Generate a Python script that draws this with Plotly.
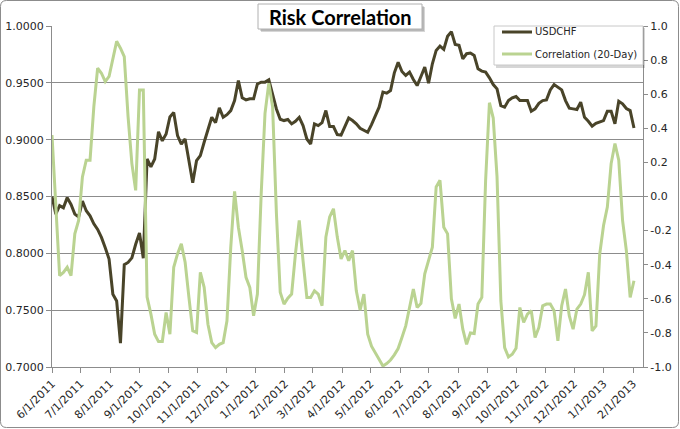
import pandas as pd
import plotly.graph_objects as go

# ---- data (sampled every 4 calendar days from 6/1/2011) ----
usdchf = [
    0.850, 0.8345, 0.842, 0.840, 0.849, 0.843, 0.8345, 0.832, 0.846, 0.8375,
    0.833, 0.826, 0.821, 0.814, 0.805, 0.795, 0.764, 0.758, 0.721, 0.790,
    0.792, 0.796, 0.808, 0.818, 0.7957, 0.883, 0.876, 0.883, 0.907, 0.899,
    0.905, 0.920, 0.924, 0.9036, 0.896, 0.9006, 0.8815, 0.862, 0.8815, 0.886,
    0.8977, 0.9095, 0.9197, 0.915, 0.928, 0.9197, 0.922, 0.9256, 0.9344, 0.952,
    0.9368, 0.935, 0.936, 0.936, 0.949, 0.9506, 0.9506, 0.9526, 0.939, 0.927,
    0.918, 0.9168, 0.9177, 0.9139, 0.9162, 0.9197, 0.9124, 0.9006, 0.8962, 0.9139,
    0.9124, 0.915, 0.9256, 0.9115, 0.9115, 0.9045, 0.904, 0.911, 0.919, 0.9168,
    0.9139, 0.910, 0.9086, 0.9065, 0.9133, 0.9212, 0.9286, 0.9418, 0.9409, 0.9432,
    0.9588, 0.968, 0.960, 0.9565, 0.9594, 0.953, 0.9476, 0.9556, 0.9638, 0.9497,
    0.9668, 0.9785, 0.9823, 0.9794, 0.991, 0.995, 0.9838, 0.983, 0.9712, 0.9756,
    0.9762, 0.974, 0.9623, 0.9603, 0.9594, 0.9544, 0.9485, 0.9447, 0.930, 0.9286,
    0.9344, 0.9368, 0.938, 0.9344, 0.9344, 0.9344, 0.925, 0.9271, 0.932, 0.9344,
    0.935, 0.9438, 0.9485, 0.9462, 0.9438, 0.9344, 0.9277, 0.9271, 0.9265, 0.933,
    0.9197, 0.9162, 0.9118, 0.9144, 0.9153, 0.9168, 0.925, 0.925, 0.9139, 0.9338,
    0.9315, 0.9274, 0.9256, 0.9103,
]

correlation = [
    0.36, -0.02, -0.464, -0.445, -0.415, -0.464, -0.219, -0.14, 0.115, 0.213,
    0.213, 0.527, 0.753, 0.723, 0.674, 0.704, 0.80, 0.91, 0.87, 0.82,
    0.468, 0.193, 0.036, 0.625, 0.625, -0.59, -0.69, -0.808, -0.851, -0.851,
    -0.68, -0.808, -0.415, -0.337, -0.278, -0.386, -0.592, -0.788, -0.798, -0.445,
    -0.533, -0.749, -0.857, -0.886, -0.867, -0.857, -0.729, -0.297, 0.03, -0.18,
    -0.317, -0.474, -0.533, -0.70, -0.572, 0.017, 0.488, 0.664, 0.527, -0.10,
    -0.562, -0.631, -0.596, -0.572, -0.337, -0.14, -0.376, -0.592, -0.592, -0.553,
    -0.572, -0.641, -0.238, -0.12, -0.072, -0.238, -0.366, -0.317, -0.376, -0.317,
    -0.553, -0.666, -0.572, -0.808, -0.878, -0.916, -0.961, -0.994, -0.98, -0.959,
    -0.929, -0.892, -0.827, -0.759, -0.651, -0.543, -0.651, -0.627, -0.454, -0.372,
    -0.297, 0.056, 0.095, -0.18, -0.219, -0.6, -0.715, -0.631, -0.778, -0.867,
    -0.80, -0.804, -0.631, -0.592, 0.095, 0.55, 0.46, 0.115, -0.611, -0.886,
    -0.941, -0.925, -0.89, -0.651, -0.739, -0.69, -0.67, -0.827, -0.768, -0.641,
    -0.631, -0.631, -0.67, -0.847, -0.641, -0.543, -0.70, -0.778, -0.66, -0.631,
    -0.576, -0.445, -0.788, -0.759, -0.337, -0.17, -0.062, 0.193, 0.311, 0.213,
    -0.14, -0.317, -0.592, -0.494,
]

dates = pd.date_range("2011-06-01", periods=len(usdchf), freq="4D")

x_tick_dates = [
    "2011-06-01", "2011-07-01", "2011-08-01", "2011-09-01", "2011-10-01",
    "2011-11-01", "2011-12-01", "2012-01-01", "2012-02-01", "2012-03-01",
    "2012-04-01", "2012-05-01", "2012-06-01", "2012-07-01", "2012-08-01",
    "2012-09-01", "2012-10-01", "2012-11-01", "2012-12-01", "2013-01-01",
    "2013-02-01",
]
x_tick_labels = [
    "6/1/2011", "7/1/2011", "8/1/2011", "9/1/2011", "10/1/2011",
    "11/1/2011", "12/1/2011", "1/1/2012", "2/1/2012", "3/1/2012",
    "4/1/2012", "5/1/2012", "6/1/2012", "7/1/2012", "8/1/2012",
    "9/1/2012", "10/1/2012", "11/1/2012", "12/1/2012", "1/1/2013",
    "2/1/2013",
]
left_ticks = [0.70, 0.75, 0.80, 0.85, 0.90, 0.95, 1.00]
right_ticks = [-1.0, -0.8, -0.6, -0.4, -0.2, 0.0, 0.2, 0.4, 0.6, 0.8, 1.0]
right_labels = ["-1.0", "-0.8", "-0.6", "-0.4", "-0.2", "0.0", "0.2", "0.4", "0.6", "0.8", "1.0"]
series_names = ["USDCHF", "Correlation (20-Day)"]

# ---- styling ----
W, H = 680, 429
L, R, T, B = 52, 643, 26, 367
DARK = "#494429"
GREEN = "#bad391"
GRID = "#8c8c8c"
TXT = "#262626"
FONT = "DejaVu Sans"


def px2x(px):
    return (px - L) / (R - L)


def py2y(py):
    return (B - py) / (B - T)


fig = go.Figure()
fig.add_trace(go.Scatter(
    x=dates, y=usdchf, name=series_names[0], mode="lines",
    line=dict(color=DARK, width=3),
))
fig.add_trace(go.Scatter(
    x=dates, y=correlation, name=series_names[1], mode="lines",
    line=dict(color=GREEN, width=3), yaxis="y2",
))

axis_common = dict(
    showline=True, linecolor=GRID, linewidth=1,
    ticks="outside", tickcolor=GRID, ticklen=5,
    tickfont=dict(family=FONT, size=11, color=TXT),
    zeroline=False,
)

fig.update_layout(
    width=W, height=H,
    margin=dict(l=L, r=W - R, t=T, b=H - B, autoexpand=False),
    paper_bgcolor="white", plot_bgcolor="white",
    hovermode=False,
    xaxis=dict(
        type="date", range=["2011-06-01", "2013-02-11 12:00"],
        tickvals=x_tick_dates, ticktext=x_tick_labels, tickangle=-45,
        showgrid=False, **axis_common,
    ),
    yaxis=dict(
        range=[0.70, 1.00], tickvals=left_ticks, tickformat=".4f",
        showgrid=True, gridcolor=GRID, gridwidth=1, **axis_common,
    ),
    yaxis2=dict(
        overlaying="y", side="right", range=[-1.0, 1.0],
        tickvals=right_ticks, ticktext=right_labels, showgrid=False,
        **{**axis_common, "ticklen": 4},
    ),
    showlegend=False,
)

shapes = []
# title box shadow + box
shapes.append(dict(type="rect", xref="paper", yref="paper", layer="above",
                   x0=px2x(261), x1=px2x(425), y0=py2y(7), y1=py2y(32),
                   fillcolor="rgba(0,0,0,0.16)", line=dict(width=0)))
shapes.append(dict(type="rect", xref="paper", yref="paper", layer="above",
                   x0=px2x(260), x1=px2x(424), y0=py2y(6), y1=py2y(31),
                   fillcolor="rgba(0,0,0,0.14)", line=dict(width=0)))
shapes.append(dict(type="rect", xref="paper", yref="paper", layer="above",
                   x0=px2x(258), x1=px2x(422), y0=py2y(4), y1=py2y(29),
                   fillcolor="white", line=dict(color="#b0b0b0", width=1)))
# legend shadow + box
shapes.append(dict(type="rect", xref="paper", yref="paper", layer="above",
                   x0=px2x(496), x1=px2x(645), y0=py2y(28), y1=py2y(68),
                   fillcolor="rgba(0,0,0,0.16)", line=dict(width=0)))
shapes.append(dict(type="rect", xref="paper", yref="paper", layer="above",
                   x0=px2x(494), x1=px2x(643), y0=py2y(26), y1=py2y(65),
                   fillcolor="white", line=dict(color="#c8c8c8", width=1)))
# legend keys
for yk, col in zip([32, 54], [DARK, GREEN]):
    shapes.append(dict(type="line", xref="paper", yref="paper", layer="above",
                       x0=px2x(502), x1=px2x(532), y0=py2y(yk), y1=py2y(yk),
                       line=dict(color=col, width=3)))
# outer chart border (rounded)
r = 6
x0, x1, y0, y1 = 0.5, W - 1.5, 0.5, H - 1.5
pts = [
    ("M", x0 + r, y0), ("L", x1 - r, y0), ("Q", x1, y0, x1, y0 + r),
    ("L", x1, y1 - r), ("Q", x1, y1, x1 - r, y1), ("L", x0 + r, y1),
    ("Q", x0, y1, x0, y1 - r), ("L", x0, y0 + r), ("Q", x0, y0, x0 + r, y0),
]
path = ""
for p in pts:
    cmd = p[0]
    coords = p[1:]
    segs = []
    for k in range(0, len(coords), 2):
        segs.append(f"{px2x(coords[k]):.5f},{py2y(coords[k + 1]):.5f}")
    path += cmd + " ".join(segs) + " "
shapes.append(dict(type="path", xref="paper", yref="paper", layer="above",
                   path=path + "Z", line=dict(color="#8c8c8c", width=1)))
fig.update_layout(shapes=shapes)

fig.add_annotation(
    x=px2x(340), y=py2y(16.5), xref="paper", yref="paper",
    xanchor="center", yanchor="middle",
    text="<b>Risk Correlation</b>", showarrow=False,
    font=dict(family="Lato", size=20, color="black"),
)
for yk, name in zip([32, 54], series_names):
    fig.add_annotation(
        x=px2x(533), y=py2y(yk), xref="paper", yref="paper",
        xanchor="left", yanchor="middle", text=name, showarrow=False,
        font=dict(family=FONT, size=10, color=TXT),
    )

fig.write_html(
    "out.html",
    config={"displayModeBar": False, "staticPlot": True},
    post_script="document.body.style.margin='0';document.body.style.padding='0';",
)
